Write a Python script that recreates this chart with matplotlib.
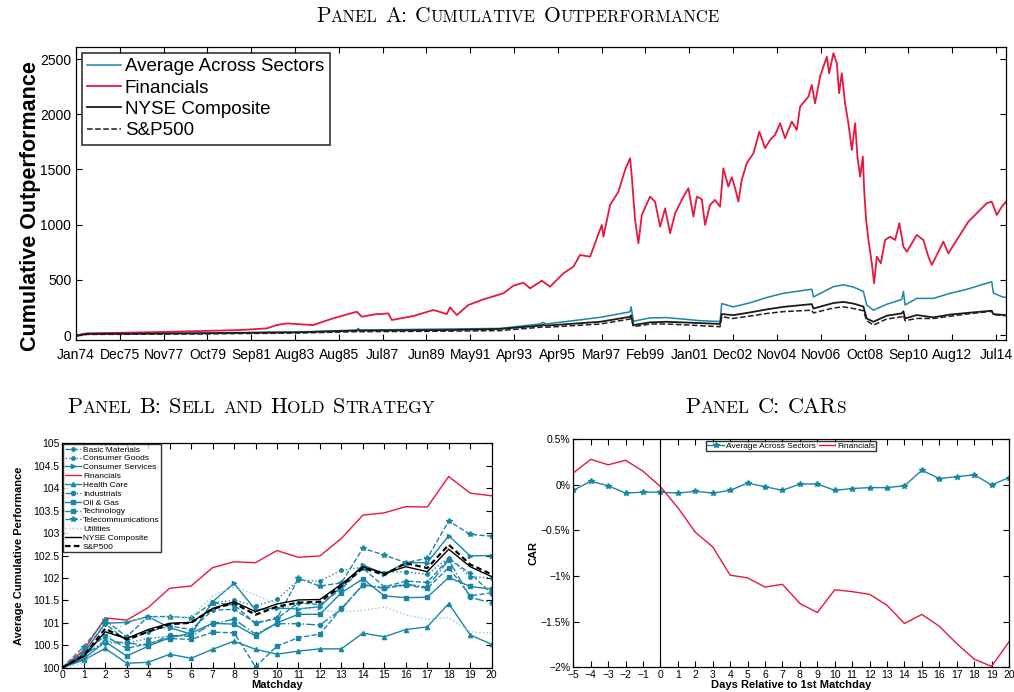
import matplotlib
matplotlib.use("Agg")
import matplotlib.pyplot as plt

plt.rcParams['font.family'] = ['Liberation Sans', 'DejaVu Sans']

TEAL = '#1a86a5'
LIGHT = '#8ccbdd'
RED = '#e8173e'

# ---------------- Panel A data (trading-day index, cumulative outperformance)
date_ticks = [0, 500, 1000, 1500, 2000, 2500, 3000, 3500, 4000, 4500, 5000,
              5500, 6000, 6500, 7000, 7500, 8000, 8500, 9000, 9500, 10000, 10500]
date_labels = ['Jan74', 'Dec75', 'Nov77', 'Oct79', 'Sep81', 'Aug83', 'Aug85',
               'Jul87', 'Jun89', 'May91', 'Apr93', 'Apr95', 'Mar97', 'Feb99',
               'Jan01', 'Dec02', 'Nov04', 'Nov06', 'Oct08', 'Sep10', 'Aug12', 'Jul14']
last_day = 10616

fin_days = [0, 122, 845, 1416, 1872, 2177, 2291, 2405, 2706, 2934, 3204, 3261, 3433,
            3470, 3565, 3604, 3850, 4079, 4232, 4269, 4346, 4478, 4650, 4878, 4992,
            5106, 5183, 5316, 5411, 5563, 5677, 5753, 5868, 6001, 6020, 6096, 6191,
            6267, 6324, 6344, 6381, 6419, 6458, 6552, 6609, 6667, 6724, 6781, 6838,
            6933, 6990, 7047, 7086, 7143, 7180, 7237, 7294, 7351, 7389, 7446, 7485,
            7523, 7560, 7599, 7656, 7732, 7800, 7865, 7922, 7979, 8036, 8093, 8170,
            8227, 8265, 8360, 8398, 8436, 8493, 8570, 8596, 8645, 8684, 8710, 8741,
            8778, 8816, 8855, 8893, 8919, 8950, 8981, 8996, 9018, 9045, 9083, 9110,
            9140, 9186, 9235, 9292, 9349, 9398, 9444, 9483, 9597, 9672, 9729, 9768,
            9825, 9900, 9957, 10053, 10186, 10281, 10395, 10452, 10510, 10567, 10616]
fin_vals = [-5, 15, 25, 36, 45, 60, 90, 105, 90, 151, 211, 166, 190,
            190, 196, 136, 172, 227, 190, 251, 181, 272, 323, 378, 447,
            474, 423, 492, 438, 559, 619, 725, 710, 997, 891, 1179, 1299,
            1496, 1602, 1435, 1043, 831, 1088, 1254, 1209, 982, 1148, 922, 1103,
            1254, 1330, 1073, 1254, 1230, 997, 1179, 1224, 1163, 1511, 1345, 1430,
            1330, 1209, 1405, 1557, 1647, 1843, 1693, 1768, 1813, 1919, 1783, 1934,
            1858, 2070, 2160, 2266, 2100, 2342, 2523, 2372, 2554, 2463, 2191, 2372,
            2100, 1919, 1677, 1919, 1616, 1435, 1616, 1315, 1043, 861, 650, 469,
            710, 650, 861, 891, 861, 1013, 800, 755, 907, 861, 710, 635,
            725, 846, 740, 861, 1028, 1103, 1194, 1209, 1088, 1163, 1209]

low_days = [0, 122, 1416, 2557, 3204, 3219, 3242, 4269, 4840, 5297, 5331, 5365,
            5982, 6324, 6336, 6362, 6552, 6743, 7123, 7351, 7370, 7503, 7694, 7884,
            8074, 8398, 8417, 8645, 8759, 8873, 8987, 9025, 9101, 9253, 9425, 9444,
            9463, 9597, 9786, 9977, 10167, 10452, 10471, 10586, 10616]
avg_vals = [-5, 10, 18, 28, 45, 60, 45, 55, 60, 100, 115, 100,
            160, 210, 255, 125, 155, 158, 130, 122, 285, 255, 292, 340,
            378, 415, 345, 438, 455, 435, 395, 272, 225, 278, 322, 395,
            272, 332, 332, 378, 414, 483, 380, 341, 345]
nyse_vals = [-5, 10, 15, 25, 40, 42, 40, 45, 55, 85, 92, 85,
             120, 165, 178, 90, 115, 120, 108, 100, 190, 180, 205, 232,
             255, 280, 240, 290, 300, 285, 258, 150, 120, 175, 196, 215,
             150, 181, 160, 185, 200, 220, 190, 182, 180]
sp_vals = [-10, 5, 10, 18, 30, 31, 30, 35, 40, 70, 75, 70,
           100, 145, 150, 75, 100, 100, 85, 75, 165, 150, 172, 195,
           212, 225, 200, 245, 255, 240, 220, 130, 90, 145, 165, 180,
           130, 150, 150, 170, 190, 215, 185, 176, 175]

# ---------------- Panel B data
matchday = list(range(21))
sector_names = ['Basic Materials', 'Consumer Goods', 'Consumer Services', 'Financials',
                'Health Care', 'Industrials', 'Oil & Gas', 'Technology',
                'Telecommunications', 'Utilities', 'NYSE Composite', 'S&P500']
basic_materials = [100, 100.35, 100.98, 100.60, 100.80, 100.93, 100.85, 101.28, 101.30, 101.00, 101.10,
                   101.44, 101.41, 101.75, 102.22, 101.80, 101.93, 101.90, 102.43, 102.10, 101.65]
consumer_goods = [100, 100.30, 100.55, 100.55, 100.65, 100.70, 100.72, 101.45, 101.50, 101.38, 101.52,
                  101.95, 101.93, 102.17, 102.24, 102.12, 102.14, 102.08, 102.45, 102.03, 102.00]
consumer_services = [100, 100.32, 100.99, 101.01, 101.14, 100.89, 100.75, 101.47, 101.88, 101.29, 101.33,
                     101.31, 101.36, 101.81, 102.29, 102.09, 102.34, 102.34, 102.94, 102.49, 102.50]
financials_b = [100, 100.39, 101.11, 101.06, 101.34, 101.77, 101.82, 102.23, 102.36, 102.34, 102.61,
                102.46, 102.49, 102.88, 103.40, 103.45, 103.59, 103.58, 104.26, 103.89, 103.83]
health_care = [100, 100.17, 100.43, 100.10, 100.12, 100.30, 100.21, 100.41, 100.59, 100.41, 100.30,
               100.37, 100.42, 100.42, 100.77, 100.69, 100.85, 100.91, 101.43, 100.73, 100.52]
industrials = [100, 100.28, 100.60, 100.55, 100.50, 100.72, 100.70, 100.98, 101.08, 100.75, 100.98,
               100.98, 100.95, 101.30, 101.85, 101.78, 101.86, 101.80, 102.40, 101.57, 101.44]
oil_gas = [100, 100.20, 100.58, 100.26, 100.48, 100.67, 100.77, 100.99, 100.97, 100.71, 101.00,
           101.19, 101.19, 101.67, 101.98, 101.60, 101.56, 101.57, 102.01, 101.81, 101.75]
technology = [100, 100.33, 100.71, 100.43, 100.54, 100.65, 100.63, 100.79, 100.78, 100.02, 100.48,
              100.67, 100.75, 101.32, 101.84, 101.77, 101.84, 101.77, 102.23, 101.60, 101.67]
telecom = [100, 100.47, 101.06, 100.69, 101.14, 101.14, 101.11, 101.45, 101.40, 100.99, 101.10,
           101.99, 101.82, 101.89, 102.66, 102.51, 102.34, 102.44, 103.27, 102.97, 102.93]
utilities = [100, 100.10, 100.58, 101.05, 101.10, 101.13, 101.12, 101.60, 101.80, 101.62, 101.42,
             101.32, 101.28, 101.24, 101.28, 101.35, 101.18, 101.08, 101.12, 100.80, 100.77]
nyse_b = [100, 100.25, 100.80, 100.65, 100.85, 100.99, 101.01, 101.32, 101.47, 101.25, 101.42,
          101.51, 101.52, 101.86, 102.25, 102.10, 102.25, 102.14, 102.64, 102.25, 102.03]
sp500_b = [100, 100.27, 100.87, 100.63, 100.80, 100.97, 101.00, 101.31, 101.44, 101.18, 101.36,
           101.45, 101.47, 101.82, 102.22, 102.07, 102.33, 102.22, 102.74, 102.30, 102.08]
sector_values = [basic_materials, consumer_goods, consumer_services, financials_b, health_care,
                 industrials, oil_gas, technology, telecom, utilities, nyse_b, sp500_b]

# ---------------- Panel C data (CAR in %)
event_days = list(range(-5, 21))
car_avg = [-0.06, 0.04, -0.01, -0.09, -0.08, -0.08, -0.09, -0.07, -0.09, -0.06, 0.02, -0.02, -0.06,
           0.01, 0.01, -0.06, -0.04, -0.03, -0.03, -0.01, 0.16, 0.07, 0.09, 0.11, 0.00, 0.08]
car_fin = [0.13, 0.28, 0.22, 0.27, 0.15, -0.02, -0.25, -0.52, -0.68, -0.99, -1.02, -1.12, -1.09,
           -1.30, -1.40, -1.15, -1.17, -1.20, -1.32, -1.52, -1.42, -1.55, -1.74, -1.91, -1.99, -1.72]
car_ticks = [0.5, 0, -0.5, -1, -1.5, -2]
car_labels = ['0.5%', '0%', '\u22120.5%', '\u22121%', '\u22121.5%', '\u22122%']

sector_styles = [
    dict(color=TEAL, ls='--', marker='D', ms=2.2),
    dict(color=TEAL, ls=':', marker='o', ms=2.5),
    dict(color=TEAL, ls='-', marker='>', ms=3),
    dict(color=RED, ls='-'),
    dict(color=TEAL, ls='-', marker='^', ms=3),
    dict(color=TEAL, ls='-.', marker='o', ms=3),
    dict(color=TEAL, ls='-', marker='s', ms=2.5),
    dict(color=TEAL, ls='--', marker='s', ms=2.5),
    dict(color=TEAL, ls='--', marker='*', ms=4),
    dict(color=LIGHT, ls=':'),
    dict(color='black', ls='-'),
    dict(color='black', ls=(0, (2.5, 1.5)), lw=1.6),
]


def small_caps(fig, xc, y_px, text, big, small):
    # fake small caps: lower-case letters drawn as smaller capitals
    r = fig.canvas.get_renderer()
    W, H = fig.bbox.width, fig.bbox.height
    runs = []
    for ch in text:
        if ch == ' ':
            runs.append([' ', big])
            continue
        s = small if ch.islower() else big
        c = ch.upper()
        if runs and runs[-1][1] == s and runs[-1][0] != ' ':
            runs[-1][0] += c
        else:
            runs.append([c, s])
    items = []
    total = 0
    for txt, s in runs:
        if txt == ' ':
            w = 0.36 * s * fig.dpi / 72
            items.append((None, w))
        else:
            t = fig.text(0, 1 - y_px / H, txt, fontsize=s, family='cmr10',
                         va='baseline', ha='left')
            w = t.get_window_extent(r).width
            items.append((t, w))
        total += w
    x = xc - total / 2
    for t, w in items:
        if t is not None:
            t.set_x(x / W)
        x += w


def matlab_axes(ax, size):
    ax.tick_params(direction='in', top=True, right=True, labelsize=size, length=4, width=0.8)
    for sp in ax.spines.values():
        sp.set_linewidth(0.9)


fig = plt.figure(figsize=(10.14, 6.92), dpi=100)

# ---------------- Panel A
axA = fig.add_axes([0.0750, 0.5087, 0.9172, 0.4234])
axA.plot(low_days, avg_vals, color=TEAL, lw=1.1, label='Average Across Sectors')
axA.plot(fin_days, fin_vals, color=RED, lw=1.3, label='Financials')
axA.plot(low_days, nyse_vals, color='#1a1a1a', lw=1.3, label='NYSE Composite')
axA.plot(low_days, sp_vals, color='#222222', lw=1.1, ls='--', label='S&P500')
axA.set_xlim(0, last_day)
axA.set_ylim(-45, 2610)
axA.set_xticks(date_ticks)
axA.set_xticklabels(date_labels)
axA.set_yticks([0, 500, 1000, 1500, 2000, 2500])
matlab_axes(axA, 10)
axA.tick_params(axis='x', pad=6)
axA.set_ylabel('Cumulative Outperformance', fontsize=15.5, fontweight='bold')
axA.yaxis.set_label_coords(-0.038, 0.457)
legA = axA.legend(loc='upper left', fontsize=13.5, frameon=True, fancybox=False,
                  edgecolor='black', handlelength=1.8, handletextpad=0.2,
                  labelspacing=0.22, borderpad=0.3, borderaxespad=0.3)
legA.get_frame().set_linewidth(1.2)

# ---------------- Panel B
axB = fig.add_axes([0.0614, 0.0351, 0.4235, 0.3243])
for name, vals, st in zip(sector_names, sector_values, sector_styles):
    kw = dict(lw=1.0)
    kw.update(st)
    axB.plot(matchday, vals, label=name, **kw)
axB.set_xlim(0, 20)
axB.set_ylim(100, 105)
axB.set_xticks(matchday)
axB.set_yticks([100, 100.5, 101, 101.5, 102, 102.5, 103, 103.5, 104, 104.5, 105])
axB.set_yticklabels(['100', '100.5', '101', '101.5', '102', '102.5', '103', '103.5',
                     '104', '104.5', '105'])
matlab_axes(axB, 7.5)
axB.tick_params(pad=2)
axB.set_xlabel('Matchday', fontsize=8, fontweight='bold', labelpad=0)
axB.set_ylabel('Average Cumulative Performance', fontsize=8, fontweight='bold', labelpad=7)
legB = axB.legend(loc='upper left', fontsize=6, frameon=True, fancybox=False,
                  edgecolor='black', handlelength=2.0, handletextpad=0.2,
                  labelspacing=0.12, borderpad=0.2, borderaxespad=0.1)
legB.get_frame().set_linewidth(1.0)

# ---------------- Panel C
axC = fig.add_axes([0.5654, 0.0357, 0.4297, 0.3295])
axC.plot(event_days, car_avg, color=TEAL, lw=1.0, marker='*', ms=4,
         label='Average Across Sectors')
axC.plot(event_days, car_fin, color=RED, lw=1.0, label='Financials')
axC.axvline(0, color='black', lw=0.8)
axC.set_xlim(-5, 20)
axC.set_ylim(-2, 0.5)
axC.set_xticks(event_days)
axC.set_xticklabels([str(d).replace('-', '\u2212') for d in event_days])
axC.set_yticks(car_ticks)
axC.set_yticklabels(car_labels)
matlab_axes(axC, 7.5)
axC.tick_params(pad=2)
axC.set_xlabel('Days Relative to 1st Matchday', fontsize=8, fontweight='bold', labelpad=0)
axC.set_ylabel('CAR', fontsize=8, fontweight='bold', labelpad=2)
legC = axC.legend(loc='upper center', ncol=2, fontsize=6, frameon=True, fancybox=False,
                  edgecolor='black', handlelength=2.0, handletextpad=0.2, columnspacing=0.4,
                  borderpad=0.15, borderaxespad=0.2)
legC.get_frame().set_linewidth(1.0)

# ---------------- titles
small_caps(fig, 518, 22, 'Panel A: Cumulative Outperformance', 15.5, 12)
small_caps(fig, 251, 413, 'Panel B: Sell and Hold Strategy', 16, 12.5)
small_caps(fig, 766, 413, 'Panel C: CARs', 16, 12.5)

fig.savefig('out.png', dpi=100)
